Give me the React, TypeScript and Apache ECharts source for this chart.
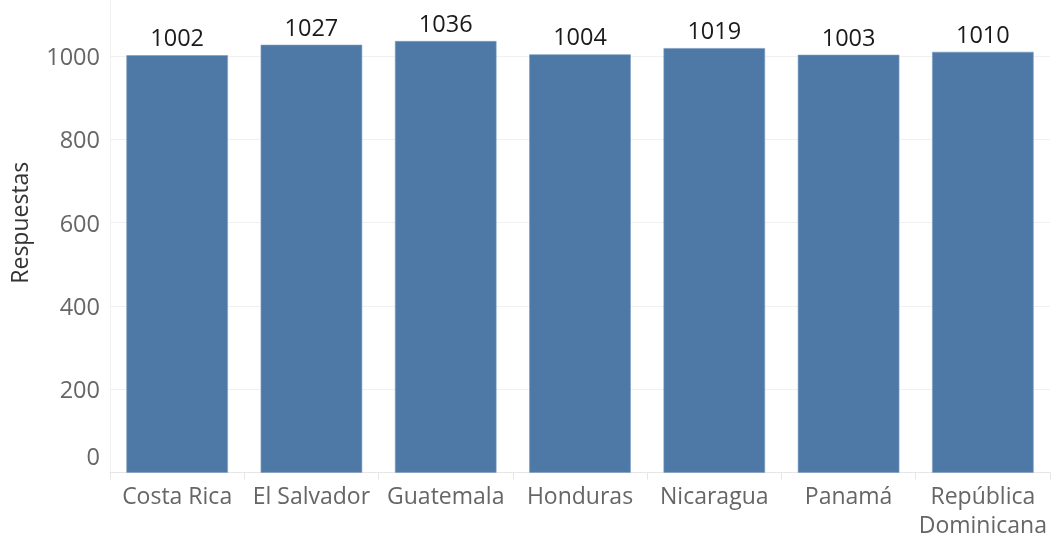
import React, { useEffect, useRef } from "react";
import * as echarts from "echarts";

const countries = ["Costa Rica", "El Salvador", "Guatemala", "Honduras", "Nicaragua", "Panamá", "República\nDominicana"];
const respuestas = [1002, 1027, 1036, 1004, 1019, 1003, 1010];
const yTicks = [0, 200, 400, 600, 800, 1000];

export default function App() {
  const ref = useRef<HTMLDivElement>(null);
  useEffect(() => {
    document.body.style.margin = "0";
    const chart = echarts.init(ref.current!, null, { renderer: "svg" });
    const font = "Open Sans";
    chart.setOption({
      animation: false,
      grid: { left: 110, right: 1, top: -27.3, bottom: 67.3, containLabel: false, outerBoundsMode: "none" },
      xAxis: {
        type: "category",
        data: countries,
        axisLine: { show: true, lineStyle: { color: "#e6e6e6", width: 1 } },
        axisTick: { show: true, length: 7, lineStyle: { color: "#e6e6e6" } },
        axisLabel: {
          color: "#666666",
          fontFamily: font,
          fontSize: 23,
          lineHeight: 29,
          margin: 8,
          interval: 0,
        },
      },
      yAxis: {
        type: "value",
        min: 0,
        max: 1200,
        interval: 200,
        name: "Respuestas",
        nameLocation: "middle",
        nameGap: 80,
        nameTextStyle: { color: "#333333", fontFamily: font, fontSize: 23 },
        axisLine: { show: true, lineStyle: { color: "#f0f0f0" } },
        axisTick: { show: false },
        splitLine: { show: true, lineStyle: { color: "#f0f0f0", width: 1 } },
        axisLabel: {
          color: "#666666",
          fontFamily: font,
          fontSize: 23.5,
          margin: 10,
          formatter: (v: number) => (yTicks.includes(v) ? (v === 0 ? "{z|0}" : String(v)) : ""),
          rich: {
            z: { color: "#666666", fontFamily: font, fontSize: 23.5, padding: [0, 0, 34, 0] },
          },
        },
      },
      series: [
        {
          type: "bar",
          data: respuestas,
          barWidth: "75.6%",
          itemStyle: { color: "#4e79a7", borderColor: "#7b9bc0", borderWidth: 0.6 },
          label: {
            show: true,
            position: "top",
            distance: 6,
            color: "#1a1a1a",
            fontFamily: font,
            fontSize: 23.5,
          },
        },
      ],
    });
    return () => chart.dispose();
  }, []);
  return <div ref={ref} style={{ width: 1051, height: 540, position: "fixed", left: 0, top: 0 }} />;
}
